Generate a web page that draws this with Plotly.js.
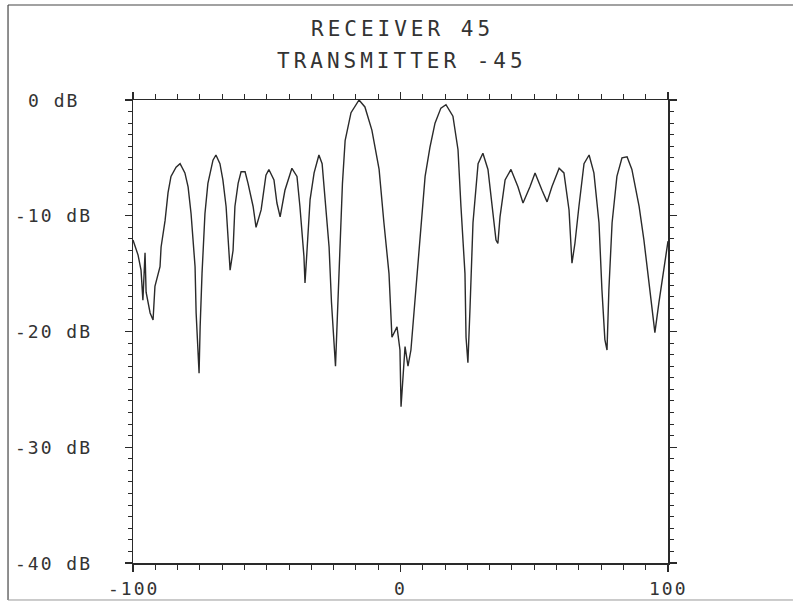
<!DOCTYPE html>
<html>
<head>
<meta charset="utf-8">
<script src="https://cdn.plot.ly/plotly-3.0.1.min.js"></script>
<style>html,body{margin:0;padding:0;background:#fff;}#chart{width:793px;height:603px;}</style>
</head>
<body>
<div id="chart"></div>
<script>
// Angle (degrees) and received level (dB)
const angle = [-100,-98.1,-97.0,-96.3,-95.5,-95.1,-93.6,-92.5,-91.8,-89.9,-89.5,-88.0,-86.9,-85.8,-83.9,-82.4,-80.6,-79.4,-78.3,-76.8,-76.4,-75.3,-74.9,-74.2,-73.1,-72.0,-70.1,-69.0,-67.5,-66.4,-65.2,-64.5,-63.7,-62.6,-61.9,-60.7,-59.6,-58.1,-57.0,-55.1,-54.0,-52.1,-50.3,-49.2,-47.3,-46.2,-45.0,-43.2,-40.6,-38.7,-37.6,-36.1,-35.7,-35.0,-33.8,-32.3,-30.5,-29.3,-28.2,-26.7,-25.8,-24.3,-23.6,-22.8,-21.7,-20.7,-18.5,-15.5,-13.3,-10.7,-8.0,-6.2,-4.3,-3.2,-1.3,-0.2,0.2,1.7,2.8,3.9,4.7,5.4,6.5,7.7,9.2,11.0,12.9,15.1,17.0,19.6,21.5,22.6,24.1,24.5,25.2,26.0,27.1,29.0,30.8,32.7,34.6,35.7,36.4,37.2,39.1,41.3,43.9,45.8,48.4,50.3,52.9,54.8,56.6,59.3,61.1,63.0,64.1,65.2,66.7,68.6,70.5,72.3,74.2,75.3,76.4,77.2,77.9,79.1,80.9,82.8,84.7,86.5,89.2,91.0,92.9,94.8,95.1,96.6,98.5,100];
const level = [-12.1,-13.4,-14.7,-17.3,-13.2,-16.6,-18.4,-19.0,-16.1,-14.4,-12.7,-10.4,-8.0,-6.6,-5.8,-5.5,-6.3,-7.5,-9.8,-14.4,-18.4,-23.6,-19.6,-15.0,-9.8,-7.2,-5.2,-4.75,-5.5,-6.9,-9.2,-12.1,-14.7,-13.0,-9.2,-7.2,-6.2,-6.2,-7.2,-9.2,-11.0,-9.5,-6.5,-6.0,-6.9,-8.9,-10.1,-7.8,-5.9,-6.6,-9.2,-13.5,-15.8,-13.2,-8.6,-6.3,-4.75,-5.5,-8.4,-12.7,-17.5,-23.0,-18.7,-13.5,-7.2,-3.5,-1.1,0.0,-0.6,-2.6,-6.0,-10.6,-15.0,-20.5,-19.6,-21.6,-26.5,-21.3,-23.0,-21.6,-19.3,-17.0,-14.1,-10.6,-6.6,-4.1,-2.0,-0.7,-0.4,-1.4,-4.3,-9.2,-15.0,-20.5,-22.7,-17.9,-10.6,-5.5,-4.6,-6.0,-10.1,-12.1,-12.4,-10.1,-6.9,-6.0,-7.5,-8.9,-7.5,-6.3,-7.8,-8.8,-7.5,-5.9,-6.3,-9.5,-14.1,-12.4,-9.2,-5.5,-4.75,-6.3,-10.6,-16.4,-20.7,-21.6,-16.4,-10.6,-6.6,-5.0,-4.9,-6.0,-9.2,-12.1,-15.8,-19.6,-20.1,-17.5,-14.4,-12.2];

const titleLines = ["RECEIVER 45", "TRANSMITTER -45"];
const yTickVals = [0, -10, -20, -30, -40];
const yTickText = ["0 dB", "-10 dB", "-20 dB", "-30 dB", "-40 dB"];
const xTickVals = [-100, 0, 100];
const xTickText = ["-100", "0", "100"];

const FONT = "DejaVu Sans Mono, monospace";
const INK = "#2a2a2a";
const spaced = (t, px) => '<span style="letter-spacing:' + px + 'px">' + t + '</span>';

const annotations = [];
titleLines.forEach((t, i) => {
  annotations.push({text: spaced(t, 4), xref: "paper", yref: "paper", x: 0.503, y: [1.153, 1.084][i],
    xanchor: "center", yanchor: "middle", showarrow: false,
    font: {family: FONT, size: 21, color: "#333"}});
});
yTickVals.forEach((v, i) => {
  annotations.push({text: spaced(yTickText[i], 2), xref: "paper", yref: "y", x: -0.148, y: v,
    xanchor: "center", yanchor: "middle", showarrow: false,
    font: {family: FONT, size: 18, color: "#333"}});
});
xTickVals.forEach((v, i) => {
  annotations.push({text: spaced(xTickText[i], 2), xref: "x", yref: "paper", x: v, y: -0.054,
    xanchor: "center", yanchor: "middle", showarrow: false,
    font: {family: FONT, size: 18, color: "#333"}});
});

const frame = {type: "line", xref: "paper", yref: "paper", line: {color: "#444", width: 1.2}};
const shapes = [
  Object.assign({}, frame, {x0: -0.2336, x1: -0.2336, y0: 1.2052, y1: -0.0799}),
  Object.assign({}, frame, {x0: -0.2336, x1: 1.2336, y0: 1.2052, y1: 1.2052}),
  Object.assign({}, frame, {x0: -0.2336, x1: 1.2336, y0: -0.0799, y1: -0.0799, line: {color: "#999", width: 1}})
];

const trace = {x: angle, y: level, type: "scatter", mode: "lines",
  line: {color: INK, width: 1.4, shape: "linear"}, hoverinfo: "skip"};

const layout = {
  width: 793, height: 603,
  margin: {l: 133, r: 125, t: 100, b: 40},
  paper_bgcolor: "#fff", plot_bgcolor: "#fff",
  showlegend: false,
  xaxis: {range: [-100, 100], showgrid: false, zeroline: false, showline: true,
    linecolor: INK, linewidth: 1.5, mirror: "ticks", ticks: "outside", ticklen: 7, tickwidth: 1.2,
    tickcolor: INK, tickvals: xTickVals, showticklabels: false,
    minor: {dtick: 200/24, tick0: -100, ticks: "outside", ticklen: 5, tickwidth: 1, tickcolor: INK, showgrid: false}},
  yaxis: {range: [-40, 0], showgrid: false, zeroline: false, showline: true,
    linecolor: INK, linewidth: 1.5, mirror: "ticks", ticks: "outside", ticklen: 7, tickwidth: 1.2,
    tickcolor: INK, tickvals: yTickVals, showticklabels: false,
    minor: {dtick: 1, tick0: 0, ticks: "outside", ticklen: 4, tickwidth: 1, tickcolor: INK, showgrid: false}},
  annotations: annotations,
  shapes: shapes
};

Plotly.newPlot("chart", [trace], layout, {staticPlot: true, displayModeBar: false});
</script>
</body>
</html>
